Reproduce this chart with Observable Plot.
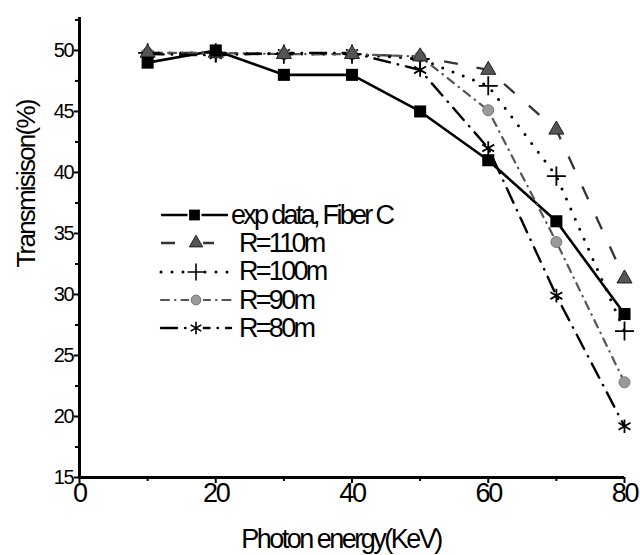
<!DOCTYPE html>
<html>
<head>
<meta charset="utf-8">
<script src="https://cdn.jsdelivr.net/npm/d3@7"></script>
<script src="https://cdn.jsdelivr.net/npm/@observablehq/plot@0.6"></script>
<style>
  html, body { margin: 0; padding: 0; background: #fff; }
  #wrap { position: relative; width: 640px; height: 555px; font-family: "Liberation Sans", Arial, sans-serif; }
  #legend { position: absolute; left: 158px; top: 201px; }
  .row { display: flex; align-items: center; height: 28.3px; font-size: 27px; letter-spacing: -2.7px; color: #000; }
  .row svg { display: block; }
</style>
</head>
<body>
<div id="wrap"></div>
<script>
const energy = [10, 20, 30, 40, 50, 60, 70, 80];
const expFiberC = [49.0, 50.0, 48.0, 48.0, 45.0, 41.0, 36.0, 28.4];
const r110 = [49.8, 49.8, 49.7, 49.7, 49.5, 48.4, 43.5, 31.3];
const r100 = [49.8, 49.8, 49.7, 49.7, 49.3, 47.1, 39.7, 27.0];
const r90  = [49.8, 49.8, 49.7, 49.7, 49.5, 45.1, 34.3, 22.8];
const r80  = [49.7, 49.6, 49.8, 49.8, 48.4, 42.0, 29.9, 19.2];
const seriesNames = ["exp data, Fiber C", "R=110m", "R=100m", "R=90m", "R=80m"];
const yMajorTicks = [15, 20, 25, 30, 35, 40, 45, 50];
const xMajorTicks = [0, 20, 40, 60, 80];
const yMinorTicks = [17.5, 22.5, 27.5, 32.5, 37.5, 42.5, 47.5, 52.5];
const xMinorTicks = [10, 30, 50, 70];
const yTitle = "Transmisison(%)";
const xTitle = "Photon energy(KeV)";

const styles = [
  {values: expFiberC, stroke: "#000", width: 2.6, dash: null, cap: "butt", symbol: "square", fill: "#000", sStroke: "none", r: 6.8},
  {values: r110, stroke: "#333", width: 2.3, dash: "14,19", cap: "butt", symbol: "triangle", fill: "#555", sStroke: "#222", r: 5.6},
  {values: r100, stroke: "#000", width: 3, dash: "0,11", cap: "round", symbol: "plus", fill: "none", sStroke: "#000", r: 6.2},
  {values: r90, stroke: "#555", width: 2.2, dash: "8,6,0.5,6", cap: "round", symbol: "circle", fill: "#999", sStroke: "#777", r: 5.5},
  {values: r80, stroke: "#000", width: 2.4, dash: "16,8,0.5,8", cap: "round", symbol: "asterisk", fill: "none", sStroke: "#000", r: 6.5}
];

const data = [];
styles.forEach((s, i) => s.values.forEach((v, j) => data.push({series: seriesNames[i], x: energy[j], y: v})));

const marks = [];
styles.forEach((s, i) => {
  const d = data.filter(p => p.series === seriesNames[i]);
  marks.push(Plot.line(d, {x: "x", y: "y", stroke: s.stroke, strokeWidth: s.width, strokeDasharray: s.dash, strokeLinecap: s.cap}));
});
styles.slice().reverse().forEach((s) => {
  const i = styles.indexOf(s);
  const d = data.filter(p => p.series === seriesNames[i]);
  marks.push(Plot.dot(d, {x: "x", y: "y", symbol: () => s.symbol, r: s.r, fill: s.fill, stroke: s.sStroke, strokeWidth: s.symbol === "plus" || s.symbol === "asterisk" ? 1.8 : 1}));
});

const chart = Plot.plot({
  width: 640,
  height: 555,
  marginLeft: 79,
  marginRight: 16,
  marginTop: 17,
  marginBottom: 78,
  style: {fontFamily: "'Liberation Sans', Arial, sans-serif", fontSize: "20px", color: "#000", background: "#fff"},
  x: {domain: [0, 80]},
  y: {domain: [15, 52.7]},
  symbol: {type: "identity"},
  marks: [
    Plot.axisY(yMajorTicks, {tickSize: 5, tickPadding: 1, fontSize: 20, strokeWidth: 2, label: null}),
    Plot.axisY(yMinorTicks, {tickSize: 4, strokeWidth: 2, text: null, label: null}),
    Plot.axisX(xMajorTicks, {tickSize: 6, tickPadding: -1, fontSize: 27, strokeWidth: 2, label: null}),
    Plot.axisX(xMinorTicks, {tickSize: 4, strokeWidth: 2, text: null, label: null}),
    Plot.ruleX([0], {strokeWidth: 3}),
    Plot.ruleY([15], {strokeWidth: 3}),
    ...marks,
    Plot.text([yTitle], {frameAnchor: "left", dx: -53, dy: 20, rotate: -90, fontSize: 26}),
    Plot.text([xTitle], {frameAnchor: "bottom", dx: -11, dy: 70, fontSize: 27})
  ]
});
document.getElementById("wrap").appendChild(chart);

// condensed look of the original lettering
d3.select(chart).selectAll("text").each(function() {
  const t = this.textContent;
  if (t === xTitle) this.setAttribute("letter-spacing", "-2.5");
  else if (t === yTitle) this.setAttribute("letter-spacing", "-1.8");
  else this.setAttribute("letter-spacing", "-1.2");
});
d3.select(chart).selectAll("g[aria-label='x-axis tick label'] text").attr("letter-spacing", "-2.2");

// legend
const legend = document.createElement("div");
legend.id = "legend";
styles.forEach((s, i) => {
  const row = document.createElement("div");
  row.className = "row";
  const w = i === 0 ? 73 : 76;
  const svg = d3.create("svg").attr("width", w).attr("height", 22);
  svg.append("line").attr("x1", 3).attr("x2", w - 3).attr("y1", 11).attr("y2", 11)
    .attr("stroke", s.stroke).attr("stroke-width", s.width)
    .attr("stroke-dasharray", i === 1 ? "14,25" : s.dash).attr("stroke-linecap", s.cap);
  const sym = {square: d3.symbolSquare, triangle: d3.symbolTriangle, plus: d3.symbolPlus, circle: d3.symbolCircle, asterisk: d3.symbolAsterisk}[s.symbol];
  svg.append("rect").attr("x", w / 2 - 7).attr("y", 2).attr("width", 14).attr("height", 18).attr("fill", "#fff");
  svg.append("path").attr("d", d3.symbol(sym, Math.PI * s.r * s.r * 0.8)())
    .attr("transform", `translate(${w / 2},11)`)
    .attr("fill", s.fill).attr("stroke", s.sStroke)
    .attr("stroke-width", s.symbol === "plus" || s.symbol === "asterisk" ? 1.6 : 1);
  row.appendChild(svg.node());
  const t = document.createElement("span");
  t.textContent = seriesNames[i];
  t.style.marginLeft = i === 0 ? "0px" : "5px";
  row.appendChild(t);
  legend.appendChild(row);
});
document.getElementById("wrap").appendChild(legend);
</script>
</body>
</html>
